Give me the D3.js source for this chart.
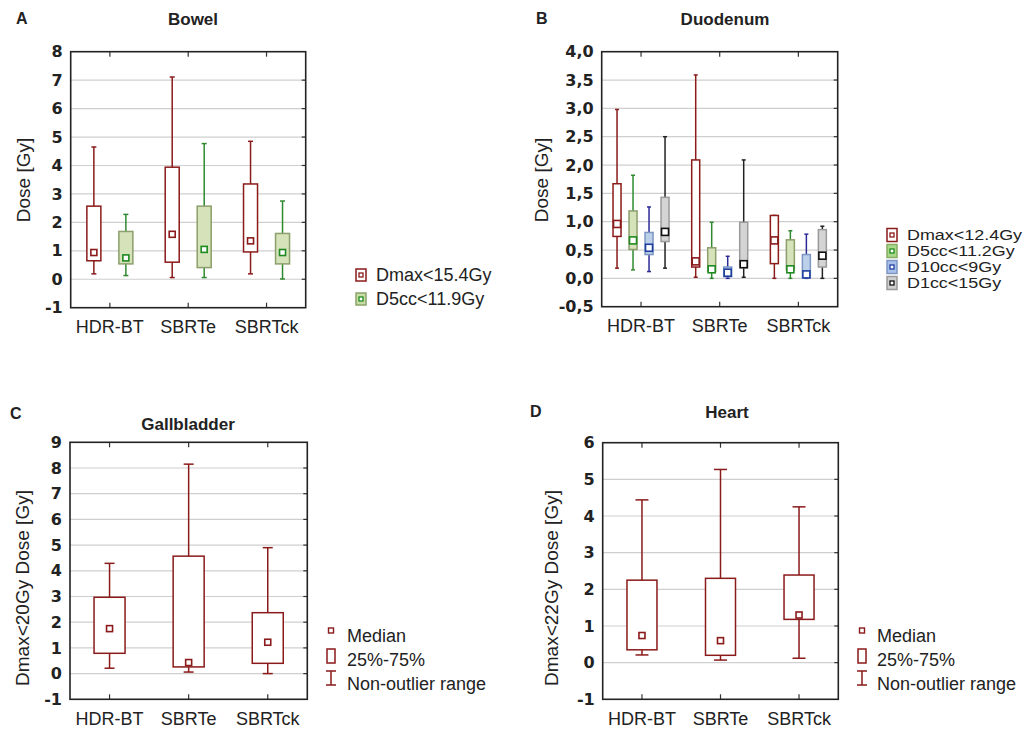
<!DOCTYPE html>
<html>
<head>
<meta charset="utf-8">
<script src="https://cdn.jsdelivr.net/npm/d3@7"></script>
<style>
  body { margin: 0; background: #fff; }
  svg { display: block; }
  text { fill: #222; }
</style>
</head>
<body>
<svg id="chart" width="1028" height="729"></svg>
<script>
// categories
const groups = ["HDR-BT", "SBRTe", "SBRTck"];

// each row: [whisker low, q25, median, q75, whisker high]
const bowelDmax = [[0.19, 0.65, 0.94, 2.57, 4.65], [0.06, 0.60, 1.58, 3.94, 7.11], [0.19, 0.96, 1.35, 3.35, 4.85]];
const bowelD5cc = [[0.13, 0.54, 0.75, 1.68, 2.28], [0.06, 0.41, 1.05, 2.57, 4.77], [0.01, 0.54, 0.94, 1.61, 2.75]];

const duoDmax  = [[0.18, 0.74, 0.96, 1.67, 2.98], [0.02, 0.20, 0.30, 2.09, 3.59], [0.00, 0.26, 0.67, 1.11, 1.11]];
const duoD5cc  = [[0.15, 0.51, 0.67, 1.19, 1.82], [0.00, 0.12, 0.16, 0.54, 0.99], [0.00, 0.15, 0.16, 0.68, 0.84]];
const duoD10cc = [[0.12, 0.42, 0.54, 0.81, 1.26], [0.00, 0.03, 0.10, 0.20, 0.39], [0.00, 0.01, 0.07, 0.42, 0.78]];
const duoD1cc  = [[0.18, 0.65, 0.82, 1.43, 2.50], [0.02, 0.19, 0.25, 0.99, 2.09], [0.00, 0.20, 0.40, 0.86, 0.92]];

const gallDmax  = [[0.21, 0.79, 1.75, 2.97, 4.29], [0.06, 0.26, 0.43, 4.57, 8.15], [0.00, 0.40, 1.22, 2.37, 4.90]];
const heartDmax = [[0.21, 0.35, 0.74, 2.25, 4.44], [0.07, 0.20, 0.60, 2.30, 5.27], [0.12, 1.18, 1.30, 2.39, 4.25]];

// axis ticks
const ticksA = d3.range(-1, 9, 1);
const ticksB = d3.range(-0.5, 4.01, 0.5);
const ticksC = d3.range(-1, 10, 1);
const ticksD = d3.range(-1, 7, 1);

const red   = { stroke: "#8b1a1a", fill: "#fff",    whisker: "#8b1a1a", med: "#8b1a1a" };
const green = { stroke: "#8c9f6c", fill: "#d6e2b9", whisker: "#2f8a2f", med: "#1f8a1f" };
const blue  = { stroke: "#7d96c4", fill: "#bcd0ea", whisker: "#2a2a96", med: "#1f3f9f" };
const gray  = { stroke: "#9a9a9a", fill: "#d4d4d4", whisker: "#222",    med: "#111" };

const svg = d3.select("#chart");
const hyphen = s => s.replace("\u2212", "-");
const intFmt = d => hyphen(d3.format("d")(d));
const comma = d => hyphen(d3.format(".1f")(d)).replace(".", ",");

function drawPanel(p) {
  const x = d3.scaleBand().domain(groups).range([p.x0, p.x1]);
  const y = d3.scaleLinear().domain([p.ticks[0], p.ticks[p.ticks.length - 1]]).range([p.y1, p.y0]);
  const g = svg.append("g");

  // grid
  g.append("g").selectAll("line")
    .data(p.ticks.slice(1, -1))
    .enter().append("line")
    .attr("x1", p.x0).attr("x2", p.x1)
    .attr("y1", d => y(d)).attr("y2", d => y(d))
    .attr("stroke", "#cfcfcf").attr("stroke-width", 1.2);

  // y axis labels
  const yAxis = g.append("g")
    .attr("transform", `translate(${p.x0},0)`)
    .call(d3.axisLeft(y).tickValues(p.ticks).tickFormat(p.fmt).tickSize(0).tickPadding(8));
  yAxis.select(".domain").remove();
  yAxis.selectAll("text")
    .attr("font-family", "DejaVu Sans, sans-serif")
    .attr("font-weight", "bold")
    .attr("font-size", 16)
    .attr("fill", "#222");

  // x axis labels
  const xAxis = g.append("g")
    .attr("transform", `translate(0,${p.y1})`)
    .call(d3.axisBottom(x).tickSize(0).tickPadding(13));
  xAxis.select(".domain").remove();
  xAxis.selectAll("text")
    .attr("font-family", "Liberation Sans, Arial, sans-serif")
    .attr("font-size", 18)
    .attr("fill", "#222");

  // side ticks
  g.append("g").selectAll("line")
    .data(p.ticks.slice(1, -1))
    .enter().append("line")
    .attr("x1", p.x1 - 4).attr("x2", p.x1)
    .attr("y1", d => y(d)).attr("y2", d => y(d))
    .attr("stroke", "#333").attr("stroke-width", 1.2);
  const centers = groups.map(c => x(c) + x.bandwidth() / 2);
  g.append("g").selectAll("line")
    .data(centers)
    .enter().append("line")
    .attr("x1", d => d).attr("x2", d => d)
    .attr("y1", p.y1).attr("y2", p.y1 - 5)
    .attr("stroke", "#333").attr("stroke-width", 1.2);
  g.append("g").selectAll("line")
    .data(centers)
    .enter().append("line")
    .attr("x1", d => d).attr("x2", d => d)
    .attr("y1", p.y0).attr("y2", p.y0 + 5)
    .attr("stroke", "#333").attr("stroke-width", 1.2);

  // boxes
  p.series.forEach((s, si) => {
    const off = p.offsets[si];
    const sg = g.append("g").selectAll("g")
      .data(s.data.map((v, i) => ({ v, c: groups[i] })))
      .enter().append("g")
      .attr("transform", d => `translate(${x(d.c) + x.bandwidth() / 2 + off},0)`);

    sg.append("line")
      .attr("y1", d => y(d.v[0])).attr("y2", d => y(d.v[4]))
      .attr("stroke", s.col.whisker).attr("stroke-width", 1.5);
    sg.append("line")
      .attr("x1", -p.capW / 2).attr("x2", p.capW / 2)
      .attr("y1", d => y(d.v[4])).attr("y2", d => y(d.v[4]))
      .attr("stroke", s.col.whisker).attr("stroke-width", 1.5);
    sg.append("line")
      .attr("x1", -p.capW / 2).attr("x2", p.capW / 2)
      .attr("y1", d => y(d.v[0])).attr("y2", d => y(d.v[0]))
      .attr("stroke", s.col.whisker).attr("stroke-width", 1.5);
    sg.append("rect")
      .attr("x", -p.boxW / 2).attr("width", p.boxW)
      .attr("y", d => y(d.v[3])).attr("height", d => y(d.v[1]) - y(d.v[3]))
      .attr("fill", s.col.fill).attr("stroke", s.col.stroke).attr("stroke-width", 1.5);
    sg.append("rect")
      .attr("x", -p.med / 2).attr("width", p.med)
      .attr("y", d => y(d.v[2]) - p.med / 2).attr("height", p.med)
      .attr("fill", "#fff").attr("stroke", s.col.med).attr("stroke-width", 1.6);
  });

  // frame
  g.append("rect")
    .attr("x", p.x0).attr("y", p.y0)
    .attr("width", p.x1 - p.x0).attr("height", p.y1 - p.y0)
    .attr("fill", "none").attr("stroke", "#222").attr("stroke-width", 1.6);

  // titles
  g.append("text")
    .attr("x", p.letterX).attr("y", p.titleY - 1)
    .attr("font-family", "Liberation Sans, Arial, sans-serif")
    .attr("font-weight", "bold").attr("font-size", 16)
    .text(p.letter);
  g.append("text")
    .attr("x", p.titleX).attr("y", p.titleY + p.titleDy)
    .attr("text-anchor", "middle")
    .attr("font-family", "Liberation Sans, Arial, sans-serif")
    .attr("font-weight", "bold").attr("font-size", 17)
    .text(p.title);
  g.append("text")
    .attr("transform", `translate(${p.ylabX},${p.ylabY}) rotate(-90)`)
    .attr("text-anchor", "middle")
    .attr("dominant-baseline", "middle")
    .attr("font-family", "Liberation Sans, Arial, sans-serif")
    .attr("font-size", 19)
    .text(p.ylabel);
}

drawPanel({
  letter: "A", title: "Bowel", letterX: 16, titleX: 193, titleY: 25, titleDy: 0,
  x0: 70.7, x1: 305.7, y0: 51.7, y1: 307.7, ticks: ticksA, fmt: intFmt,
  ylabel: "Dose [Gy]", ylabX: 25, ylabY: 180,
  offsets: [-16, 16], boxW: 14, capW: 5, med: 6,
  series: [{ data: bowelDmax, col: red }, { data: bowelD5cc, col: green }]
});
drawPanel({
  letter: "B", title: "Duodenum", letterX: 536, titleX: 725, titleY: 25, titleDy: 0,
  x0: 601.7, x1: 837.7, y0: 51.7, y1: 306.7, ticks: ticksB, fmt: comma,
  ylabel: "Dose [Gy]", ylabX: 543, ylabY: 180,
  offsets: [-24, -8, 8, 24], boxW: 8, capW: 4, med: 7,
  series: [{ data: duoDmax, col: red }, { data: duoD5cc, col: green }, { data: duoD10cc, col: blue }, { data: duoD1cc, col: gray }]
});
drawPanel({
  letter: "C", title: "Gallbladder", letterX: 10, titleX: 188, titleY: 420, titleDy: 10,
  x0: 70, x1: 307.3, y0: 442.3, y1: 699.3, ticks: ticksC, fmt: intFmt,
  ylabel: "Dmax<20Gy Dose [Gy]", ylabX: 24, ylabY: 588,
  offsets: [0], boxW: 31, capW: 10, med: 6,
  series: [{ data: gallDmax, col: red }]
});
drawPanel({
  letter: "D", title: "Heart", letterX: 530, titleX: 727, titleY: 418, titleDy: 0,
  x0: 602.7, x1: 838.3, y0: 442.7, y1: 699.3, ticks: ticksD, fmt: intFmt,
  ylabel: "Dmax<22Gy Dose [Gy]", ylabX: 553, ylabY: 588,
  offsets: [0], boxW: 30, capW: 13, med: 6,
  series: [{ data: heartDmax, col: red }]
});

// series legends (A, B)
const legendA = ["Dmax<15.4Gy", "D5cc<11.9Gy"];
const legendB = ["Dmax<12.4Gy", "D5cc<11.2Gy", "D10cc<9Gy", "D1cc<15Gy"];
const legIconA = [red, { stroke: "#8ba36a", fill: "#c9dea6", med: "#1f8a1f" }];
const legIconB = [red, { stroke: "#86ad62", fill: "#a9d88a", med: "#1f8a1f" },
  { stroke: "#7d96c4", fill: "#a9c1ea", med: "#1f3f9f" }, { stroke: "#9a9a9a", fill: "#cfcfcf", med: "#111" }];

function seriesLegend(labels, icons, ix, tx, y0, dy, ih, fs, stretch) {
  const lg = svg.append("g");
  const row = lg.selectAll("g").data(labels).enter().append("g")
    .attr("transform", (d, i) => `translate(0,${y0 + i * dy})`);
  row.append("rect")
    .attr("x", ix).attr("y", -ih / 2).attr("width", 10).attr("height", ih)
    .attr("fill", (d, i) => icons[i].fill).attr("stroke", (d, i) => icons[i].stroke).attr("stroke-width", 1.5);
  row.append("rect")
    .attr("x", ix + 3).attr("y", -2).attr("width", 4).attr("height", 4)
    .attr("fill", "#fff").attr("stroke", (d, i) => icons[i].med).attr("stroke-width", 1.3);
  row.append("text")
    .attr("x", tx).attr("y", 0).attr("dy", "0.35em")
    .attr("font-family", "Liberation Sans, Arial, sans-serif")
    .attr("font-size", fs)
    .text(d => d)
    .each(function () {
      if (stretch !== 1) {
        const w = this.getComputedTextLength();
        d3.select(this).attr("textLength", w * stretch).attr("lengthAdjust", "spacingAndGlyphs");
      }
    });
}
seriesLegend(legendA, legIconA, 356, 376, 275, 24, 12, 18, 1);
seriesLegend(legendB, legIconB, 887, 907, 235, 16, 13, 14, 1.28);

// statistic legends (C, D)
const statLabels = ["Median", "25%-75%", "Non-outlier range"];

function statLegend(cx, tx) {
  const lg = svg.append("g");
  const c = red.stroke;
  lg.append("rect").attr("x", cx - 2.5).attr("y", 628).attr("width", 5).attr("height", 5)
    .attr("fill", "#fff").attr("stroke", c).attr("stroke-width", 1.4);
  lg.append("rect").attr("x", cx - 4).attr("y", 649).attr("width", 8).attr("height", 14)
    .attr("fill", "#fff").attr("stroke", c).attr("stroke-width", 1.5);
  lg.append("path").attr("d", `M${cx - 5},671H${cx + 5}M${cx},671V685M${cx - 5},685H${cx + 5}`)
    .attr("fill", "none").attr("stroke", c).attr("stroke-width", 1.5);
  lg.selectAll("text").data(statLabels).enter().append("text")
    .attr("x", tx).attr("y", (d, i) => 636 + i * 24).attr("dy", "0.35em")
    .attr("font-family", "Liberation Sans, Arial, sans-serif")
    .attr("font-size", 18)
    .text(d => d);
}
statLegend(331, 347);
statLegend(862, 877);
</script>
</body>
</html>
